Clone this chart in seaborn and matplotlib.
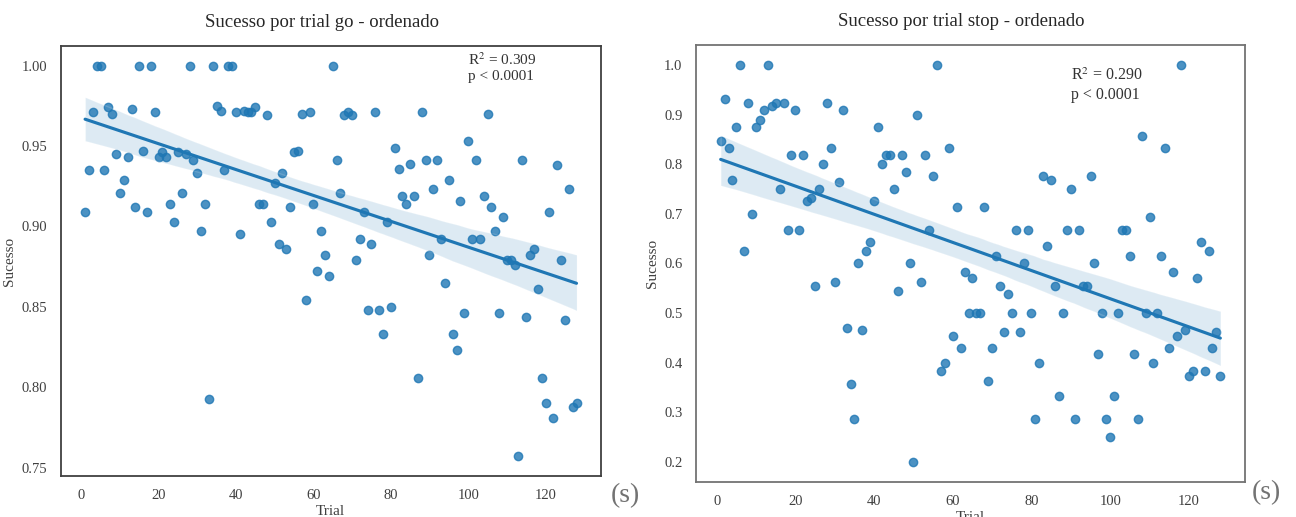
import numpy as np
import pandas as pd
import matplotlib
matplotlib.use("Agg")
import matplotlib.pyplot as plt
import seaborn as sns

# trials 1..128 (one point per trial in each panel)
trials = list(range(1, 129))

# success rate per trial - go trials
sucesso_go = [
    0.909, 0.935, 0.971, 1.000, 1.000, 0.935, 0.974, 0.970, 0.945, 0.921,
    0.929, 0.943, 0.973, 0.912, 1.000, 0.947, 0.909, 1.000, 0.971, 0.943,
    0.946, 0.943, 0.914, 0.903, 0.946, 0.921, 0.945, 1.000, 0.941, 0.933,
    0.897, 0.914, 0.793, 1.000, 0.975, 0.972, 0.935, 1.000, 1.000, 0.971,
    0.895, 0.972, 0.971, 0.971, 0.974, 0.914, 0.914, 0.969, 0.903, 0.927,
    0.889, 0.933, 0.886, 0.912, 0.946, 0.947, 0.970, 0.854, 0.971, 0.914,
    0.872, 0.897, 0.882, 0.869, 1.000, 0.941, 0.921, 0.969, 0.971, 0.969,
    0.879, 0.892, 0.909, 0.848, 0.889, 0.971, 0.848, 0.833, 0.903, 0.850,
    0.949, 0.936, 0.919, 0.914, 0.939, 0.919, 0.806, 0.971, 0.941, 0.882,
    0.923, 0.941, 0.892, 0.865, 0.929, 0.833, 0.823, 0.916, 0.846, 0.953,
    0.892, 0.941, 0.892, 0.919, 0.970, 0.912, 0.897, 0.846, 0.906, 0.879,
    0.879, 0.876, 0.757, 0.941, 0.844, 0.882, 0.886, 0.861, 0.806, 0.790,
    0.909, 0.781, 0.938, 0.879, 0.842, 0.923, 0.788, 0.790,
]

# success rate per trial - stop trials
sucesso_stop = [
    0.846, 0.932, 0.832, 0.769, 0.875, 1.000, 0.626, 0.923, 0.700, 0.875,
    0.889, 0.909, 1.000, 0.917, 0.923, 0.750, 0.923, 0.667, 0.818, 0.909,
    0.667, 0.818, 0.726, 0.732, 0.555, 0.750, 0.800, 0.923, 0.832, 0.563,
    0.764, 0.909, 0.470, 0.357, 0.286, 0.600, 0.467, 0.626, 0.643, 0.726,
    0.875, 0.800, 0.818, 0.818, 0.750, 0.545, 0.818, 0.785, 0.600, 0.200,
    0.900, 0.563, 0.818, 0.667, 0.777, 1.000, 0.384, 0.400, 0.832, 0.454,
    0.714, 0.429, 0.582, 0.500, 0.571, 0.500, 0.500, 0.714, 0.364, 0.429,
    0.616, 0.555, 0.462, 0.539, 0.500, 0.667, 0.462, 0.600, 0.667, 0.500,
    0.286, 0.400, 0.777, 0.635, 0.769, 0.555, 0.333, 0.500, 0.667, 0.750,
    0.286, 0.667, 0.555, 0.555, 0.777, 0.600, 0.417, 0.500, 0.286, 0.250,
    0.333, 0.500, 0.667, 0.667, 0.616, 0.417, 0.286, 0.857, 0.500, 0.693,
    0.400, 0.500, 0.616, 0.832, 0.429, 0.582, 0.454, 1.000, 0.467, 0.374,
    0.384, 0.571, 0.643, 0.384, 0.626, 0.429, 0.462, 0.374,
]

titulos = ["Sucesso por trial go - ordenado", "Sucesso por trial stop - ordenado"]
r2_textos = ["R$^2$ = 0.309", "R$^2$ = 0.290"]

df_go = pd.DataFrame({"Trial": trials, "Sucesso": sucesso_go})
df_stop = pd.DataFrame({"Trial": trials, "Sucesso": sucesso_stop})

sns.set_style("white")
plt.rcParams["font.family"] = ["Liberation Serif", "DejaVu Serif"]
plt.rcParams["mathtext.fontset"] = "stix"

fig = plt.figure(figsize=(12.96, 5.17), dpi=100)
ax1 = fig.add_axes([0.0467, 0.0793, 0.4171, 0.8317])
ax2 = fig.add_axes([0.5368, 0.0677, 0.4241, 0.8453])

# === 1. Go trials ===
sns.regplot(data=df_go, x="Trial", y="Sucesso", ax=ax1, seed=3)
ax1.set_title(titulos[0], fontsize=13.5, pad=14, x=0.483)
ax1.text(0.753, 0.956, r2_textos[0], transform=ax1.transAxes, fontsize=11, color="0.2")
ax1.text(0.753, 0.921, "p < 0.0001", transform=ax1.transAxes, fontsize=11, color="0.2")

# === 2. Stop trials ===
sns.regplot(data=df_stop, x="Trial", y="Sucesso", ax=ax2, seed=3)
ax2.set_title(titulos[1], fontsize=13.5, pad=14, x=0.484)
ax2.text(0.683, 0.921, r2_textos[1], transform=ax2.transAxes, fontsize=11.5, color="0.2")
ax2.text(0.683, 0.876, "p < 0.0001", transform=ax2.transAxes, fontsize=11.5, color="0.2")

for ax, edge in [(ax1, "0.25"), (ax2, "0.45")]:
    ax.set_xlabel("Trial", fontsize=11, color="0.25", labelpad=2)
    ax.set_ylabel("Sucesso", fontsize=11, color="0.25")
    ax.tick_params(labelsize=10.5, colors="0.25", pad=6)
    for s in ax.spines.values():
        s.set_color(edge)
        s.set_linewidth(1.3)
ax1.set_yticks([0.75, 0.80, 0.85, 0.90, 0.95, 1.00])
ax1.set_yticklabels(["0.75", "0.80", "0.85", "0.90", "0.95", "1.00"])

fig.text(0.4715, 0.041, "(s)", fontsize=20, color="0.45", va="center")
fig.text(0.9658, 0.048, "(s)", fontsize=20, color="0.45", va="center")

plt.savefig("out.png", dpi=100)
